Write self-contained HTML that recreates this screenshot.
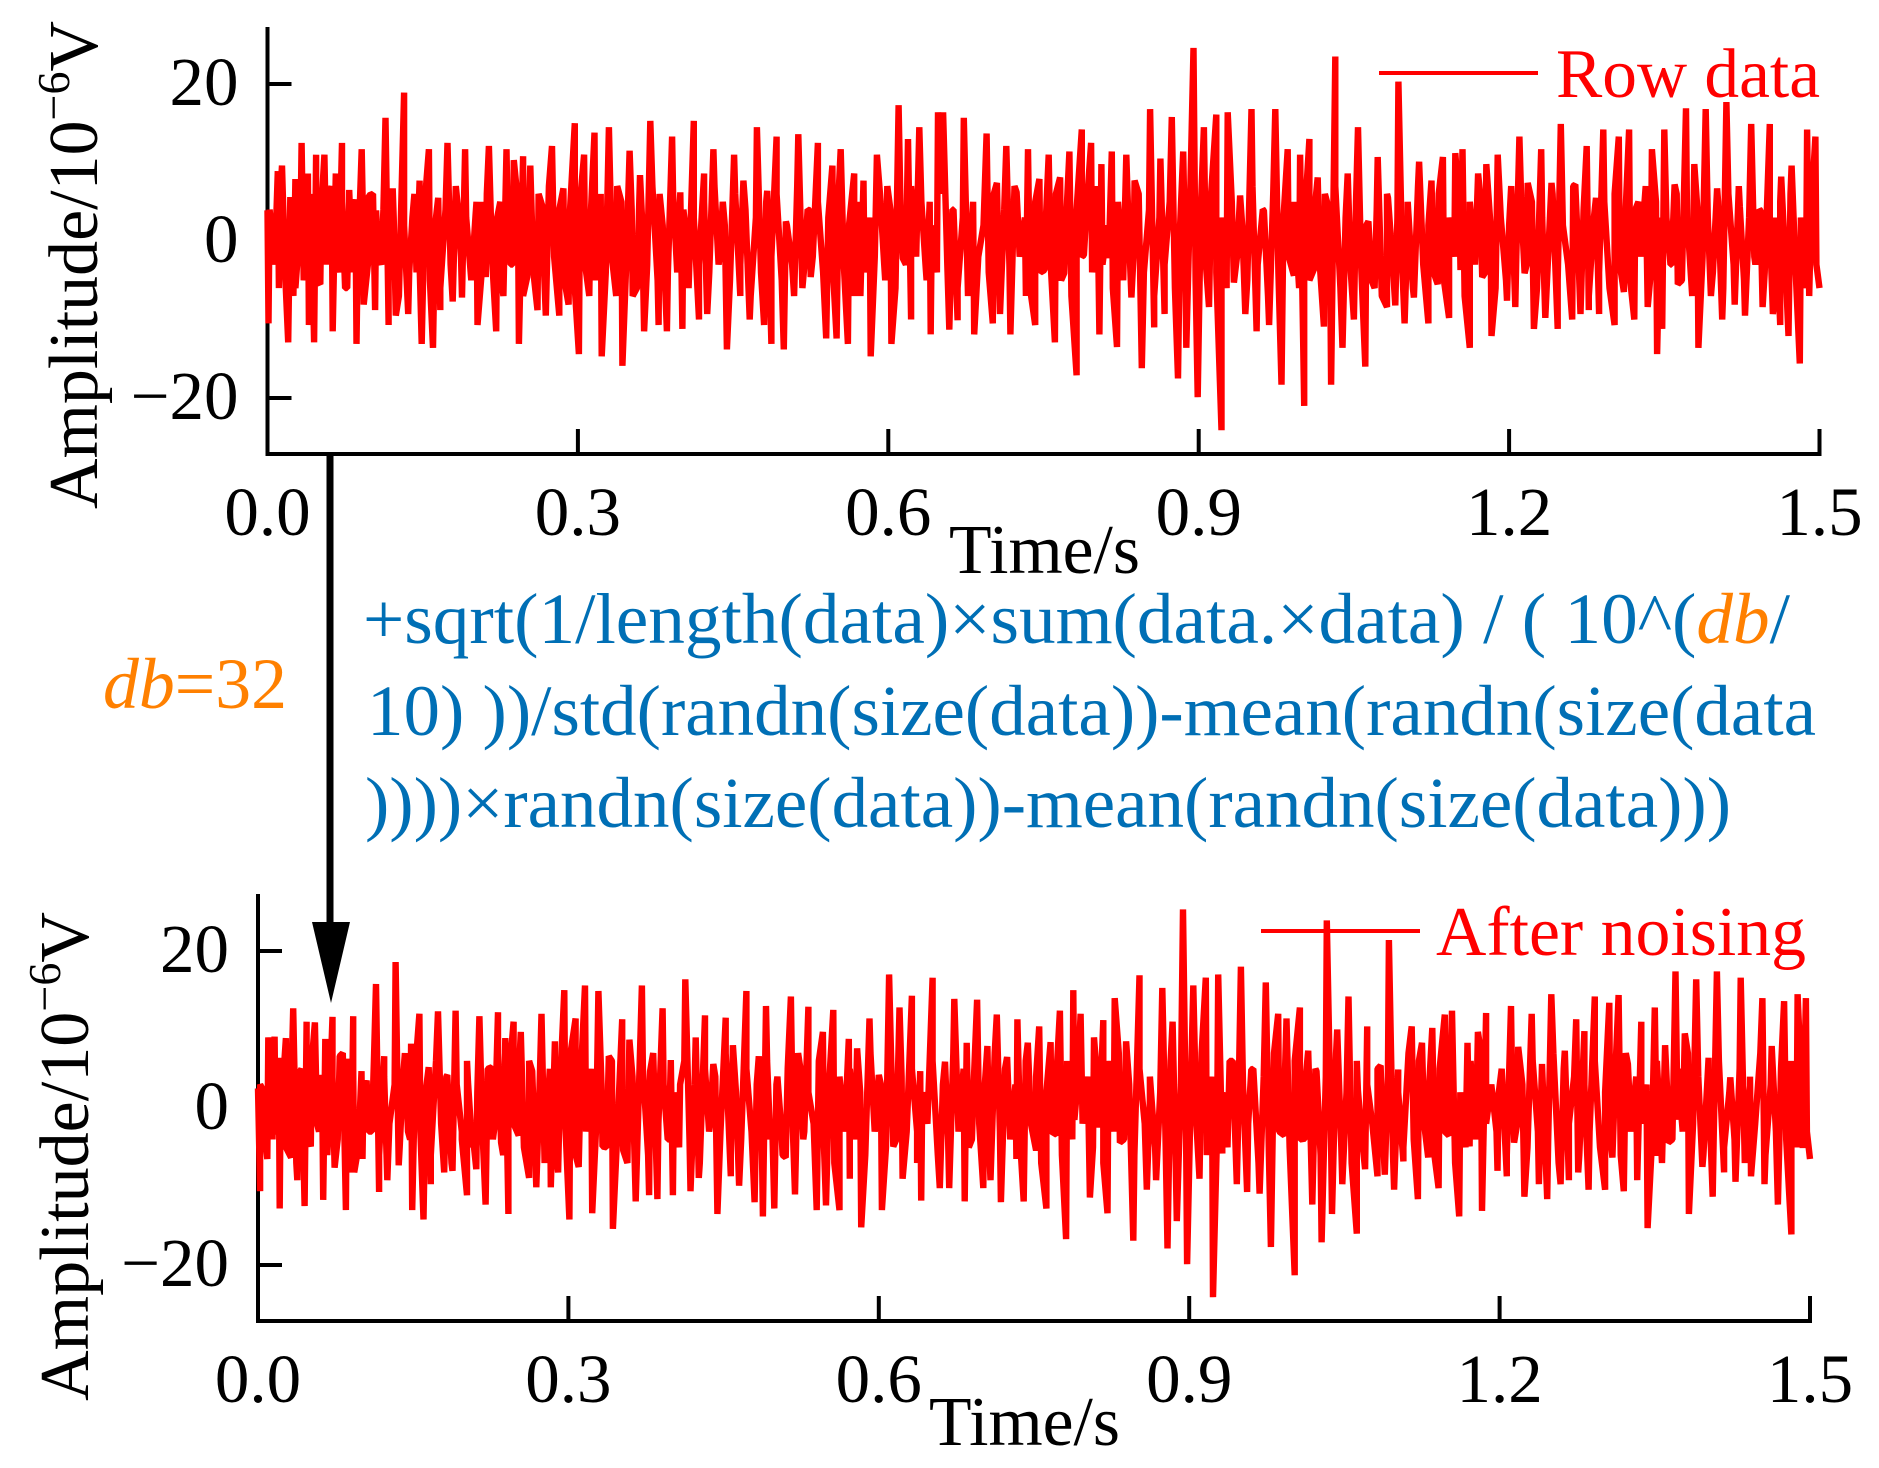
<!DOCTYPE html>
<html lang="en">
<head>
<meta charset="utf-8">
<title>Row data and after noising waveforms</title>
<style>
  html, body { margin: 0; padding: 0; background: #fff; }
  svg { display: block; }
  text { font-family: "Liberation Serif", serif; }
</style>
</head>
<body>
<svg id="figure" xmlns="http://www.w3.org/2000/svg" width="1879" height="1468" viewBox="0 0 1879 1468">
  <rect width="1879" height="1468" fill="#fff"/>
  <g id="top-panel"></g>
  <g id="bottom-panel"></g>

  <text transform="translate(97 509) rotate(-90)" font-size="70" textLength="488" lengthAdjust="spacingAndGlyphs" fill="#000">Amplitude/10<tspan font-size="46" dy="-28">−6</tspan><tspan dy="28">V</tspan></text>
  <text transform="translate(88 1401) rotate(-90)" font-size="70" textLength="489" lengthAdjust="spacingAndGlyphs" fill="#000">Amplitude/10<tspan font-size="46" dy="-28">−6</tspan><tspan dy="28">V</tspan></text>
  <text x="949" y="573" font-size="70" textLength="191" lengthAdjust="spacingAndGlyphs" fill="#000">Time/s</text>
  <text x="929" y="1445" font-size="70" textLength="191" lengthAdjust="spacingAndGlyphs" fill="#000">Time/s</text>

  <line x1="1379" y1="73" x2="1538" y2="73" stroke="#f00" stroke-width="4"/>
  <text x="1556" y="97" font-size="70" textLength="264" lengthAdjust="spacingAndGlyphs" fill="#f00">Row data</text>
  <line x1="1261" y1="931" x2="1420" y2="931" stroke="#f00" stroke-width="4"/>
  <text x="1436" y="955" font-size="70" textLength="370" lengthAdjust="spacingAndGlyphs" fill="#f00">After noising</text>

  <line x1="330" y1="454" x2="330" y2="930" stroke="#000" stroke-width="7"/>
  <polygon points="312,922 350,922 331,1003" fill="#000"/>
  <text x="103" y="708" font-size="72" textLength="184" lengthAdjust="spacingAndGlyphs" fill="#ff8000"><tspan font-style="italic">db</tspan>=32</text>

  <text x="363" y="643" font-size="72" textLength="1427" lengthAdjust="spacingAndGlyphs" fill="#006fb5">+sqrt(1/length(data)×sum(data.×data) / ( 10^(<tspan font-style="italic" fill="#ff8000">db</tspan>/</text>
  <text x="367" y="735" font-size="72" textLength="1449" lengthAdjust="spacingAndGlyphs" fill="#006fb5">10) ))/std(randn(size(data))-mean(randn(size(data</text>
  <text x="365" y="827" font-size="72" textLength="1366" lengthAdjust="spacingAndGlyphs" fill="#006fb5">))))×randn(size(data))-mean(randn(size(data)))</text>
</svg>

<script>
const xTicks = [0, 0.3, 0.6, 0.9, 1.2, 1.5];
const xTickLabels = ["0.0", "0.3", "0.6", "0.9", "1.2", "1.5"];
const yTicks = [20, 0, -20];
const yTickLabels = ["20", "0", "−20"];
const timeDomain = [0, 1.5];
const amplitudeDomain = [-27.13, 27.26];

const rowTimeMs = [
  0,1,10,11,14,20,22,25,27,33,
  35,39,40,42,45,47,51,55,57,60,
  63,66,69,72,75,79,82,85,86,91,
  93,98,104,105,110,114,117,121,124,132,
  136,140,144,147,149,156,160,165,167,174,
  179,185,188,191,198,201,203,208,211,214,
  221,225,228,231,235,238,243,247,251,254,
  261,266,269,275,282,286,291,297,301,306,
  311,316,323,330,333,338,343,350,353,360,
  364,370,378,379,386,391,396,399,401,407,
  412,417,422,425,431,436,440,444,451,457,
  460,466,473,480,483,487,492,499,501,509,
  513,519,524,525,532,540,546,550,554,561,
  567,573,576,583,589,596,599,603,610,614,
  619,622,630,636,640,641,648,
  653,659,663,667,673,683,695,701,705,708,
  714,718,724,733,735,742,746,751,755,761,
  766,770,775,782,787,789,796,804,806,813,
  816,821,830,835,838,845,853,857,863,867,
  874,880,885,888,895,899,905,910,917,922,
  928,934,940,945,951,956,963,968,974,980,
  986,992,998,1002,1007,1012,1015,1021,1024,1028,
  1032,1039,1044,1050,1054,1061,1064,1070,1073,1082,
  1083,1090,1093,1099,1102,1108,1113,1122,1125,1131,
  1136,1142,1148,1153,1155,1162,1170,1174,1178,1183,
  1189,1198,1200,1206,1210,1215,1218,1224,1231,1235,
  1241,1247,1250,1261,1264,1269,1275,1277,1284,1287,
  1291,1302,1306,1311,1316,1321,1325,1334,1338,1343,
  1346,1348,1350,1356,1360,1363,1371,1374,1379,1383,
  1390,1395,1401,1406,1410,1418,1423,1428,1434,1438,
  1443,1445,1452,1455,1458,1462,1463,1470,1473,1481,
  1488,1490,1496,1500
];
const rowAmplitude = [
  3.9,-10.5,8.9,-6,9.6,-12.9,5.6,-7,7.9,12.5,
  -5,8.6,-10.7,2,-12.9,11,-5.5,11,-3,5.8,
  -11.5,8.6,-4,12.5,-6,6.5,-4,5.3,-13.1,11.7,
  -8.1,5.8,-8.8,3.9,-3,15.7,-10.7,6.7,-9.5,18.9,
  -9.3,3,-4,7.7,-13.1,11.7,-13.6,5.5,-8.8,12.5,
  -7.7,3,-7.2,11.7,-3,3.2,-10.7,5,-4.6,12.1,
  -11.5,5,-7,11.7,-3,10.3,-13.1,10.8,-4.6,9.6,
  -8.8,4.3,-9.5,12.1,-9.5,6.7,-8.1,15,-14.4,11,
  -7,13.8,-14.7,14.5,-2.2,7,-15.9,11.5,-7,8.4,
  -11.5,15.3,-10.7,6,-11.5,13.3,-4,6.2,-11.2,-2,
  15.3,-10,8.6,-9.3,11.7,-3,5,-13.8,11,-7,
  7.7,-10,14.5,-10.7,6.4,-13.1,13.3,-13.8,2.5,-7,
  13.6,-3,3.9,-4.6,12.5,-12.4,9.6,-12.4,11.7,-13.1,
  8.6,-7,7.7,-14.7,11,-3,7,-13.1,17.3,-2.2,
  13,-10,14.5,-3,5,-11.9,16.4,
  16.4,-11.3,4,-10.1,15.7,-11.9,13.7,-10.5,7.4,-9.3,
  12.1,-11.9,6.2,-7,11.7,-10.7,7.9,-3.7,11,-12.9,
  8.1,-4.1,11.4,-17.1,14.2,-1.8,12.5,-11.9,9.8,-2.2,
  11.4,-13.5,11,-7.2,7.7,-16.2,16.8,-11,10.5,-9.3,
  15.8,-17.5,11.4,-13.6,24.6,-19.9,14.5,-8.4,16.1,-24.1,
  16.4,-5.3,5.8,-9.3,16.8,-11.5,3.9,-10.7,16.8,-18.3,
  11.7,-4.4,11,-21,13,-3.4,8.1,-10.9,5,-18.3,
  23.5,-13.6,8.6,-10,14.5,-16,2.5,-6,10.7,-8.4,
  5.5,-8.2,20.3,-10.5,2.5,-7.2,10.1,-10.5,7.7,-5.5,
  10.7,-9.8,11.2,-3.7,11.7,-13.6,8.6,-4.6,9.8,-12.1,
  11,-7.6,2,-8.4,13.3,-4.1,7.4,-11.2,11.7,-9.8,
  7.4,-11.2,14.9,-10,7.2,-9.3,12.1,-8.8,5.5,-9.3,
  14.2,-10.7,13.3,-6.5,14.2,-10,5,-8.4,11.7,-14.4,
  3,-11.2,14.2,-3,7.2,-5.5,16.9,-0.8,9.8,-13.6,
  16.8,-7,6.7,-10,17.7,-8.1,4.4,-9.5,14.9,-3,
  3.9,-8.4,14.9,-9.3,3,-10.7,8.2,-12.1,9.6,-15.6,
  14.2,-7,13.3,-6
];

const noisedTimeMs = [
  0,2,6,9,10,14,16,18,20,21,
  23,27,32,34,38,39,45,47,51,55,
  59,61,63,65,68,72,74,79,85,86,
  90,92,93,100,101,105,110,114,117,122,
  125,133,136,140,145,148,149,156,160,165,
  167,174,180,183,188,191,197,202,203,208,
  211,214,220,226,229,232,235,239,242,247,
  252,254,262,265,269,274,283,287,290,296,
  301,307,310,316,323,329,333,339,343,352,
  353,359,365,371,378,379,386,391,396,399,
  401,408,413,418,423,426,432,436,440,444,
  452,457,459,465,472,480,484,488,491,495,
  499,501,506,510,515,519,524,528,532,540,
  546,549,556,562,571,572,579,583,591,596,
  600,603,610,614,620,623,632,637,640,641,
  652,
  659,664,668,673,683,685,690,695,701,705,
  708,714,718,724,733,734,740,744,752,755,
  762,766,772,775,781,788,789,795,804,808,
  813,817,821,828,833,839,846,852,859,862,
  868,874,879,884,888,894,898,904,910,916,
  923,928,932,939,946,950,956,960,968,974,
  979,986,992,994,1002,1007,1012,1015,1019,1023,
  1028,1033,1038,1043,1048,1054,1062,1063,1070,1072,
  1082,1085,1089,1093,1098,1102,1107,1115,1121,1125,
  1131,1135,1141,1147,1151,1154,1161,1169,1171,1179,
  1183,1187,1198,1199,1207,1211,1214,1218,1224,1231,
  1238,1241,1246,1250,1259,1263,1267,1274,1276,1282,
  1286,1292,1302,1306,1309,1315,1320,1324,1333,1337,
  1343,1350,1352,1360,1363,1370,1372,1379,1383,1390,
  1396,1402,1406,1410,1417,1423,1428,1433,1438,1442,
  1443,1454,1456,1463,1469,1475,1482,1488,1493,1496,
  1500
];
const noisedAmplitude = [
  2.5,-10.6,2,-6.5,9,-4,9.1,-3,6.4,-12.8,
  1,8.9,-6.3,12.7,-9.2,4.3,-12.5,11,-4.9,10.9,
  -3,4.2,-11.7,8.8,-3,11.6,-7.6,6.6,-13,6.3,
  -8.2,11.7,-8.2,4.7,-6.5,3.5,-3,15.8,-10.7,6.6,
  -9.2,18.6,-7.3,3.7,-3,8.2,-13,12,-14.2,5.2,
  -9.7,12.3,-8.2,4.2,-8,12.4,-3,-11.1,3.3,-4,
  -7.8,11.7,-12.3,5.2,-2,12.2,-4.4,8.9,-13.5,11,
  -3.5,9.7,-8.9,4.7,-10.1,12,-10.1,8.5,-8.2,15,
  -14.2,11.4,-7.5,15.6,-13.4,14.9,-4.9,6.6,-15.4,11.3,
  -5.4,8.7,-11.9,15.6,-11.1,4.7,-11.6,12.7,-4,6.1,
  -11.1,3,16.4,-10.6,9,-8.9,11.8,-3,5.6,-13.5,
  11.5,-8.7,8,-9.9,14.9,-12,6.6,-13.8,13,-4,
  -12.8,3,-3,-6.3,14.2,-11,5.2,-3,12.9,-13,
  9.7,-12.4,12.5,-13,8.8,-9,7.6,-15.2,11.4,-3,
  4.2,-13,17,-4.9,12.8,-9,14.3,-3,4.7,-11.8,
  16.6,
  -10.2,5.9,-10.2,13.9,-11.9,8.3,-4,13.8,-10.2,7.9,
  -9.2,11.9,-12,6.5,-6.5,11.3,-11.9,8.3,-5.4,10.4,
  -12.8,8.4,-3.4,12.4,-16.7,15,-1.5,12,-11.4,9,
  -2.5,11.2,-13.4,14,-4.4,8.5,-16.9,16.9,-10.4,1.1,
  -9.2,15.3,-17.9,11,-14.4,25.3,-19.9,15.6,-9,16.6,
  -24.1,17,-5.8,6,-9.7,18,-10.7,4.9,-10.9,16,
  -17.7,12,-3.5,11.4,-21.3,12.8,-3.9,7.3,-12.3,4.7,
  -17.1,23.9,-13.5,10,-9.7,14.2,-16,2.3,-7.8,10.4,
  -8.7,5.4,-8.5,21.4,-10.4,4.9,-6.8,10.4,-11.6,8.3,
  -6.3,10.2,-10.2,11.9,-3.5,12.4,-13.8,8.3,-4.9,9.7,
  -13.1,12.1,-8,1.8,-8.7,13,-4.4,7.8,-11.3,12,
  -9.7,5.6,-11.6,14.5,-9.7,7.3,-9.2,11.3,-8.2,9.8,
  -10.4,14.2,-10.4,13.4,-6.3,14.4,-10.6,5.6,-9.2,11,
  -15.3,12.8,-6.1,8,-4.4,17.4,-1.5,9.5,-13.5,16.4,
  -7.5,6.4,-11.3,17.4,-8.2,3.9,-9.4,16.6,-3,2.8,
  -8.7,14,-9.7,7.9,-12.3,13.6,-16.1,14.5,-5.1,14,
  -6.5
];

/* Fine ripple inside the solid centre band of each trace, estimated by eye. */
const rippleTimeMs = [
  2,7,12,17,22,27,32,37,42,47,52,57,62,67,72,77,82,87,92,97,
  102,107,112,117,122,127,132,137,142,147,152,157,162,167,172,177,182,187,192,197,
  202,207,212,217,222,227,232,237,242,247,252,257,262,267,272,277,282,287,292,297,
  302,307,312,317,322,327,332,337,342,347,352,357,362,367,372,377,382,387,392,397,
  402,407,412,417,422,427,432,437,442,447,452,457,462,467,472,477,482,487,492,497,
  502,507,512,517,522,527,532,537,542,547,552,557,562,567,572,577,582,587,592,597,
  602,607,612,617,622,627,632,637,642,647,652,657,662,667,672,677,682,687,692,697,
  702,707,712,717,722,727,732,737,742,747,752,757,762,767,772,777,782,787,792,797,
  802,807,812,817,822,827,832,837,842,847,852,857,862,867,872,877,882,887,892,897,
  902,907,912,917,922,927,932,937,942,947,952,957,962,967,972,977,982,987,992,997,
  1002,1007,1012,1017,1022,1027,1032,1037,1042,1047,1052,1057,1062,1067,1072,1077,1082,1087,1092,1097,
  1102,1107,1112,1117,1122,1127,1132,1137,1142,1147,1152,1157,1162,1167,1172,1177,1182,1187,1192,1197,
  1202,1207,1212,1217,1222,1227,1232,1237,1242,1247,1252,1257,1262,1267,1272,1277,1282,1287,1292,1297,
  1302,1307,1312,1317,1322,1327,1332,1337,1342,1347,1352,1357,1362,1367,1372,1377,1382,1387,1392,1397,
  1402,1407,1412,1417,1422,1427,1432,1437,1442,1447,1452,1457,1462,1467,1472,1477,1482,1487,1492,1497
];
const rowRipple = [
  4,-3,5,-4,2,-6,3,-2,6,-5,4,-3,7,-2,5,-6,3,-4,5,-3,
  6,-2,4,-5,3,-7,2,-4,6,-3,5,-5,2,-6,4,-3,7,-2,3,-5,
  5,-4,6,-2,3,-6,4,-3,5,-7,2,-4,6,-3,7,-2,4,-5,3,-6,
  5,-3,2,-5,6,-4,3,-7,5,-2,4,-6,3,-3,7,-5,2,-4,6,-2,
  4,-6,3,-3,5,-4,7,-2,2,-5,6,-3,4,-7,3,-4,5,-2,6,-5,
  2,-3,7,-6,4,-2,5,-4,3,-5,6,-3,2,-7,5,-4,3,-2,6,-5,
  4,-6,3,-3,7,-2,5,-5,2,-4,6,-3,4,-6,3,-7,5,-2,2,-4,
  6,-5,4,-3,7,-2,3,-6,5,-4,2,-3,6,-5,3,-7,4,-2,5,-4,
  7,-3,2,-6,5,-5,3,-2,6,-4,4,-7,3,-3,5,-6,2,-2,7,-5,
  4,-3,6,-4,3,-6,5,-2,2,-5,7,-3,4,-7,6,-4,3,-2,5,-6,
  2,-5,4,-3,6,-2,7,-6,3,-4,5,-3,2,-5,4,-7,6,-2,3,-4,
  5,-6,7,-3,2,-4,6,-5,3,-2,4,-7,5,-3,6,-4,2,-6,3,-5,
  7,-2,4,-3,5,-6,3,-4,6,-5,2,-3,7,-2,4,-7,3,-4,5,-6,
  6,-3,2,-5,4,-2,7,-4,5,-6,3,-3,6,-5,2,-7,4,-2,3,-4,
  5,-6,6,-3,7,-5,3,-2,4,-4,2,-7,5,-3,6,-4,3,-6,4,-3
];
const noisedRipple = [
  3,-4,6,-3,4,-5,2,-7,5,-3,6,-2,3,-6,4,-4,7,-2,5,-5,
  2,-3,6,-6,4,-2,3,-5,7,-4,5,-3,2,-6,6,-2,4,-7,3,-4,
  6,-5,2,-3,5,-4,7,-6,3,-2,4,-5,6,-3,2,-7,5,-4,3,-2,
  7,-6,4,-3,5,-2,3,-5,6,-4,2,-7,4,-3,5,-6,7,-2,3,-4,
  2,-5,6,-4,3,-7,5,-2,4,-3,7,-6,2,-4,5,-3,3,-5,6,-2,
  4,-6,5,-3,7,-4,2,-2,6,-5,3,-7,4,-3,5,-4,2,-6,7,-2,
  3,-5,6,-4,4,-3,5,-7,2,-2,6,-6,3,-4,7,-3,5,-5,4,-2,
  2,-6,7,-3,5,-4,3,-5,6,-2,4,-7,2,-3,5,-6,6,-4,3,-2,
  4,-5,2,-7,6,-3,7,-4,3,-6,5,-2,4,-5,2,-3,6,-7,3,-4,
  5,-2,7,-6,4,-3,2,-5,6,-4,3,-2,5,-7,4,-6,7,-3,2,-5,
  6,-4,3,-2,5,-6,4,-3,7,-5,2,-7,6,-4,3,-2,5,-3,4,-6,
  2,-5,7,-4,6,-2,3,-6,5,-3,4,-7,2,-5,6,-4,7,-2,3,-3,
  5,-6,4,-2,3,-5,6,-3,2,-4,7,-7,5,-2,4,-6,3,-3,6,-5,
  2,-4,5,-6,7,-3,4,-2,3,-5,6,-7,2,-4,5,-3,7,-2,4,-6,
  3,-3,6,-5,2,-4,5,-7,4,-2,7,-6,3,-3,5,-4,6,-5,2,-3
];

const SVG_NS = "http://www.w3.org/2000/svg";

function make(parent, tag, attrs, content) {
  const el = document.createElementNS(SVG_NS, tag);
  for (const key in attrs) el.setAttribute(key, attrs[key]);
  if (content !== undefined) el.textContent = content;
  parent.appendChild(el);
  return el;
}

function mergeSamples(timesA, valuesA, timesB, valuesB) {
  const merged = [];
  valuesA.forEach((v, i) => merged.push({ t: timesA[i], v: v }));
  valuesB.forEach((v, i) => merged.push({ t: timesB[i], v: v }));
  merged.sort((a, b) => a.t - b.t);
  return merged;
}

function drawPanel(groupId, box, samples, seriesName) {
  const group = document.getElementById(groupId);
  const xScale = t => box.left + (t - timeDomain[0]) / (timeDomain[1] - timeDomain[0]) * (box.right - box.left);
  const yScale = v => box.bottom - (v - amplitudeDomain[0]) / (amplitudeDomain[1] - amplitudeDomain[0]) * (box.bottom - box.top);

  xTicks.forEach((tick, i) => {
    const mark = make(group, "line", { x1: xScale(tick), x2: xScale(tick), y1: box.bottom, y2: box.bottom - 25, stroke: "#000", "stroke-width": 4 });
    
    
    const label = make(group, "text", { x: xScale(tick), y: box.bottom + 81, "font-size": 69, "text-anchor": "middle", fill: "#000" }, xTickLabels[i]);
    
    
  });

  yTicks.forEach((tick, i) => {
    const mark = make(group, "line", { x1: box.left, x2: box.left + 24, y1: yScale(tick), y2: yScale(tick), stroke: "#000", "stroke-width": 4 });
    
    
    const label = make(group, "text", { x: box.left - 29, y: yScale(tick) + 21, "font-size": 69, "text-anchor": "end", fill: "#000" }, yTickLabels[i]);
    
    
  });

  const yAxis = make(group, "line", { x1: box.left, x2: box.left, y1: box.top, y2: box.bottom + 2, stroke: "#000", "stroke-width": 4 });
  
  
  const xAxis = make(group, "line", { x1: box.left - 2, x2: box.right + 2, y1: box.bottom, y2: box.bottom, stroke: "#000", "stroke-width": 4 });
  
  

  const points = samples.map(s => xScale(s.t / 1000).toFixed(1) + "," + yScale(s.v).toFixed(1)).join(" ");
  const line = make(group, "polyline", { points: points, fill: "none", stroke: "#f00", "stroke-width": 6.4, "stroke-linejoin": "bevel" });
  
  
}

drawPanel("top-panel", { left: 267.5, right: 1819.5, top: 27, bottom: 454 }, mergeSamples(rowTimeMs, rowAmplitude, rippleTimeMs, rowRipple), "row-data-line");
drawPanel("bottom-panel", { left: 258, right: 1810, top: 894, bottom: 1321 }, mergeSamples(noisedTimeMs, noisedAmplitude, rippleTimeMs, noisedRipple), "after-noising-line");
</script>
</body>
</html>
